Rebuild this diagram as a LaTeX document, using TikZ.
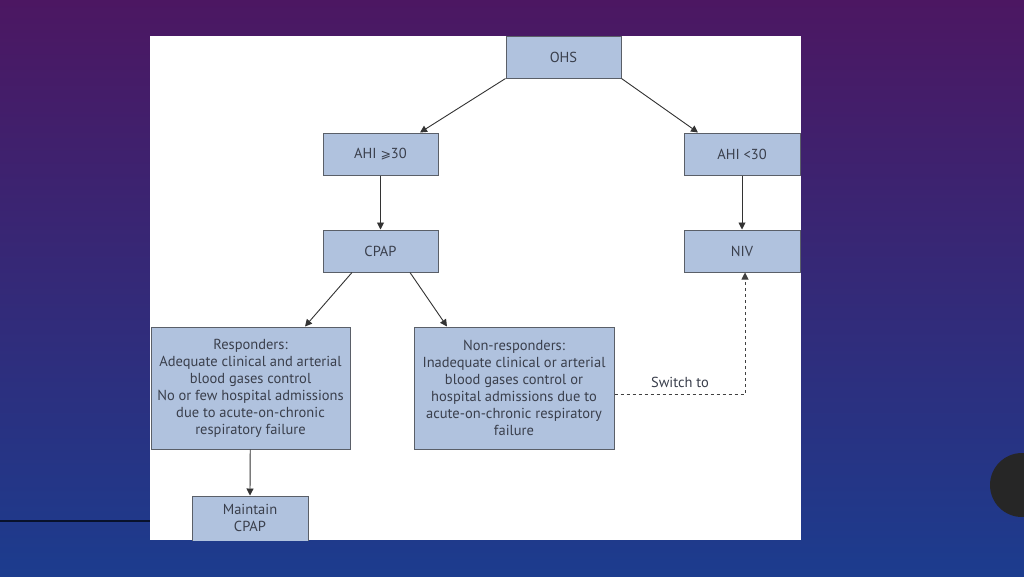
\documentclass[tikz,border=0pt]{standalone}
\usepackage{fontspec}
\setmainfont{PT Sans}
\newfontfamily\symfont{DejaVu Sans}
\usetikzlibrary{arrows.meta}
\definecolor{boxfill}{HTML}{B0C2DE}
\definecolor{boxline}{HTML}{5A5F68}
\definecolor{txt}{HTML}{3A3F4C}
\definecolor{bgtop}{HTML}{4C1762}
\definecolor{bgbot}{HTML}{1C3C8E}
\tikzset{
  box/.style={draw=boxline, line width=1pt, fill=boxfill, text=txt, inner sep=0pt,
    font=\fontsize{14.5}{17}\selectfont, align=center},
  arr/.style={draw=black!80, line width=0.9pt, -{Triangle[length=7pt,width=7pt]}},
  darr/.style={draw=black!75, line width=0.9pt, dash pattern=on 3pt off 3pt, -{Triangle[length=7pt,width=7pt]}}
}
\begin{document}
\begin{tikzpicture}[x=1pt,y=-1pt]
\useasboundingbox (0,0) rectangle (1024,576);
\shade[top color=bgtop, bottom color=bgbot, middle color=bgtop!50!bgbot] (0,0) rectangle (1024,576);
\draw[line width=2pt, draw=black!70!bgbot] (0,521) -- (150,521);
\fill[black!85] (1022,485) circle (32);
\fill[white] (150,36) rectangle (801,540);
\begin{scope}
\clip (150,36) rectangle (801,540);
\node[box, minimum width=115pt, minimum height=42pt] (ohs) at (563.5,57) {OHS};
\node[box, minimum width=115pt, minimum height=42pt] (ahi1) at (380.5,154) {AHI {\symfont\fontsize{12.5}{12.5}\selectfont ⩾}30};
\node[box, minimum width=116pt, minimum height=42pt] (ahi2) at (742,154) {AHI <30};
\node[box, minimum width=115pt, minimum height=42pt] (cpap) at (380.5,251) {CPAP};
\node[box, minimum width=116pt, minimum height=42pt] (niv) at (742,251) {NIV};
\node[box, minimum width=199pt, minimum height=122pt] (resp) at (250.5,388) {Responders:\\Adequate clinical and arterial\\blood gases control\\No or few hospital admissions\\due to acute-on-chronic\\respiratory failure};
\node[box, minimum width=200pt, minimum height=122pt] (nonresp) at (514,388) {Non-responders:\\Inadequate clinical or arterial\\blood gases control or\\hospital admissions due to\\acute-on-chronic respiratory\\failure};
\node[box, minimum width=116pt, minimum height=48pt] (maint) at (250,520) {\raisebox{3pt}{\begin{tabular}{@{}c@{}}Maintain\\CPAP\end{tabular}}};
\end{scope}
\draw[arr] (ohs.south west) -- (ahi1.north -| 420,0);
\draw[arr] (ohs.south east) -- (ahi2.north -| 698,0);
\draw[arr] (ahi1) -- (cpap);
\draw[arr] (ahi2) -- (niv);
\draw[arr] (cpap.south -| 352,0) -- (resp.north -| 305,0);
\draw[arr] (cpap.south -| 410,0) -- (nonresp.north -| 447,0);
\draw[arr] (resp) -- (maint.north);
\coordinate (corner) at (745,394);
\draw[darr] (nonresp.east |- corner) -- (corner) -- (niv.south -| corner);
\node[text=txt, font=\fontsize{14.5}{15}\selectfont] (sw) at (680,382) {Switch to};
\end{tikzpicture}
\end{document}
